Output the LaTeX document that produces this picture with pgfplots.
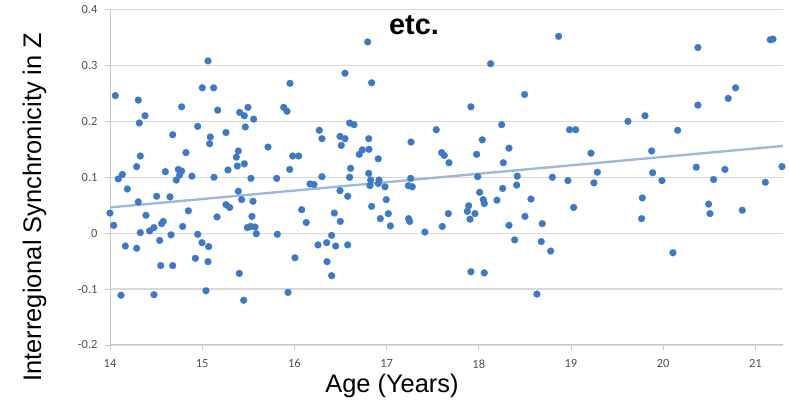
\documentclass[border=0pt]{standalone}
\usepackage{fontspec}
\setmainfont{Liberation Sans}
\newfontfamily\carlito{Carlito}
\usepackage{pgfplots}
\pgfplotsset{compat=1.18}
\usepackage{pgfplotstable}
\definecolor{dotblue}{RGB}{62,121,194}
\definecolor{trendblue}{RGB}{160,184,216}
\definecolor{axgray}{RGB}{200,200,200}
\definecolor{gridgray}{RGB}{217,217,217}
\definecolor{lblgray}{RGB}{80,80,80}
\pgfplotstableread{
x y
14.058 0.246
14.307 0.238
14.380 0.210
14.318 0.197
14.777 0.226
15.001 0.260
15.124 0.260
15.063 0.308
15.168 0.220
14.951 0.191
14.680 0.176
15.088 0.172
15.081 0.160
14.824 0.144
14.329 0.138
14.289 0.119
14.134 0.105
14.090 0.097
14.188 0.079
14.600 0.110
14.741 0.114
14.777 0.111
14.755 0.104
14.719 0.095
14.889 0.102
15.128 0.100
14.307 0.056
14.506 0.066
14.651 0.065
14.000 0.036
14.040 0.014
14.390 0.032
14.850 0.040
14.578 0.021
14.560 0.017
14.477 0.010
14.430 0.004
14.329 0.001
14.788 0.012
15.161 0.029
14.539 -0.013
14.662 -0.003
14.951 -0.002
14.998 -0.017
15.070 -0.024
14.166 -0.023
14.289 -0.027
14.926 -0.045
15.063 -0.051
14.550 -0.058
14.680 -0.058
14.119 -0.111
14.477 -0.110
15.041 -0.103
15.952 0.268
15.406 0.216
15.457 0.210
15.497 0.225
15.558 0.204
15.884 0.225
15.920 0.218
15.468 0.190
15.258 0.180
16.270 0.184
16.299 0.169
15.714 0.154
15.392 0.147
15.370 0.136
15.381 0.120
15.457 0.124
15.280 0.113
15.981 0.138
16.046 0.138
15.949 0.114
15.529 0.098
15.808 0.098
16.299 0.101
16.169 0.088
16.213 0.087
15.392 0.075
15.428 0.060
15.551 0.057
15.258 0.051
15.298 0.046
16.079 0.042
15.540 0.030
16.129 0.019
15.490 0.010
15.526 0.012
15.573 0.011
15.587 -0.001
15.815 -0.002
16.256 -0.021
16.006 -0.044
15.403 -0.072
15.450 -0.120
15.931 -0.106
16.795 0.342
16.549 0.286
16.838 0.269
16.599 0.197
16.646 0.194
17.539 0.185
16.495 0.173
16.549 0.169
16.509 0.157
16.806 0.169
17.265 0.163
16.737 0.149
16.704 0.141
16.809 0.150
16.910 0.133
16.610 0.116
16.599 0.100
16.806 0.107
16.827 0.095
16.820 0.085
16.918 0.095
16.910 0.089
16.983 0.083
17.261 0.098
17.236 0.085
17.279 0.083
16.495 0.076
16.578 0.066
16.997 0.060
16.838 0.048
16.433 0.036
16.498 0.021
17.019 0.035
16.932 0.026
17.041 0.013
17.239 0.026
17.250 0.021
17.416 0.002
16.350 -0.017
16.404 -0.004
16.448 -0.023
16.578 -0.021
16.354 -0.051
16.404 -0.076
18.129 0.303
18.497 0.248
17.915 0.226
18.248 0.194
18.038 0.167
18.328 0.152
17.597 0.144
17.626 0.139
17.677 0.126
17.977 0.141
18.266 0.126
17.988 0.101
18.418 0.102
18.411 0.086
18.009 0.073
18.259 0.080
18.049 0.060
18.060 0.053
18.197 0.059
18.566 0.061
17.890 0.049
17.876 0.039
17.959 0.035
17.670 0.035
17.905 0.025
17.604 0.012
18.328 0.014
18.501 0.030
18.689 0.017
18.389 -0.012
18.678 -0.015
17.915 -0.069
18.060 -0.071
18.631 -0.109
18.866 0.352
19.618 0.200
19.803 0.210
18.985 0.185
19.051 0.185
19.217 0.143
19.875 0.147
18.798 0.100
18.967 0.094
19.286 0.109
19.249 0.090
19.886 0.108
19.987 0.094
19.774 0.063
19.029 0.046
19.766 0.026
18.780 -0.032
20.377 0.332
21.162 0.346
21.191 0.347
20.786 0.260
20.706 0.241
20.377 0.229
20.157 0.184
20.359 0.118
20.670 0.114
21.289 0.119
20.547 0.096
21.108 0.091
20.493 0.052
20.508 0.035
20.858 0.041
20.106 -0.035
}\pts
\begin{document}
\begin{tikzpicture}
\useasboundingbox (0bp,0bp) rectangle (789bp,402bp);
\begin{axis}[
  at={(110bp,57bp)}, anchor=south west,
  scale only axis, width=673bp, height=335.5bp,
  xmin=14, xmax=21.3, ymin=-0.2, ymax=0.4,
  clip=false,
  axis lines*=left,
  axis line style={axgray, line width=1bp},
  xtick={14,15,16,17,18,19,20,21},
  xticklabels={14,15,16,17,18,19,20,21},
  ytick={-0.2,-0.1,0,0.1,0.2,0.3,0.4},
  yticklabels={-0.2,-0.1,0,0.1,0.2,0.3,0.4},
  tick align=outside,
  major tick length=5bp,
  tick style={axgray, line width=0.8bp},
  ymajorgrids,
  grid style={gridgray, line width=1.2bp},
  ticklabel style={font=\carlito\fontsize{12.5}{12.5}\selectfont, text=lblgray},
  xticklabel style={yshift=-6bp},
  yticklabel style={xshift=-4bp},
  xlabel={Age (Years)},
  ylabel={Interregional Synchronicity in Z},
  label style={font=\fontsize{25.5}{26}\selectfont},
  xlabel style={at={(axis description cs:0.419,-0.143)}, anchor=base},
  ylabel style={at={(axis description cs:-0.1025,0.411)}, anchor=base, rotate=0},
]
\addplot[no marks, trendblue, line width=2.4bp] coordinates {(14,0.046) (21.3,0.156)};
\addplot[only marks, color=dotblue, mark=*, mark size=3.5bp, mark options={solid, fill=dotblue, draw=dotblue, line width=0.1bp}] table[x=x,y=y] {\pts};
\end{axis}
\node[anchor=base, font=\bfseries\fontsize{29}{29}\selectfont] at (414bp,367bp) {etc.};
\end{tikzpicture}
\end{document}
